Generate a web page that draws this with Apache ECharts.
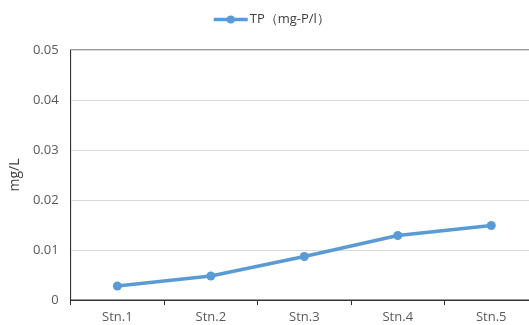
<!DOCTYPE html>
<html>
<head>
<meta charset="utf-8">
<script src="https://cdn.jsdelivr.net/npm/echarts@6/dist/echarts.min.js"></script>
<style>
  html, body { margin: 0; padding: 0; background: #fff; overflow: hidden; }
  /* plot area runs past the right edge of the window */
  #chart { width: 540px; height: 325px; }
</style>
</head>
<body>
<div id="chart"></div>
<script>
// Total phosphorus by station
const stations = ['Stn.1', 'Stn.2', 'Stn.3', 'Stn.4', 'Stn.5'];
const tpValues = [0.0028, 0.0048, 0.0087, 0.0129, 0.0149];
const seriesName = 'TP（mg-P/l）';
const yTicks = [0, 0.01, 0.02, 0.03, 0.04, 0.05];

const FONT = 'Open Sans';
const chart = echarts.init(document.getElementById('chart'), null, { renderer: 'canvas' });

chart.setOption({
  backgroundColor: '#ffffff',
  animation: false,
  textStyle: { fontFamily: FONT },
  legend: {
    data: [seriesName],
    top: 8,
    left: 207,
    itemWidth: 34,
    itemHeight: 10,
    itemGap: 2,
    lineStyle: { width: 3.5 },
    textStyle: { fontFamily: FONT, fontSize: 13, color: '#404040', padding: [0, 0, 0, -3] }
  },
  grid: {
    left: 68,
    top: 50,
    right: 2,
    height: 250,
    show: true,
    borderColor: '#333333',
    borderWidth: 1
  },
  xAxis: {
    type: 'category',
    data: stations,
    boundaryGap: true,
    axisLine: { show: true, lineStyle: { color: '#333333', width: 1 } },
    axisTick: { show: true, length: 5, inside: false, lineStyle: { color: '#333333' } },
    axisLabel: { color: '#595959', fontSize: 13, fontFamily: FONT, margin: 11 },
    splitLine: { show: false }
  },
  yAxis: {
    type: 'value',
    min: yTicks[0],
    max: yTicks[yTicks.length - 1],
    interval: 0.01,
    name: 'mg/L',
    nameLocation: 'middle',
    nameGap: 41,
    nameRotate: 90,
    nameTextStyle: { color: '#404040', fontSize: 14, fontFamily: FONT },
    axisLine: { show: true, lineStyle: { color: '#333333', width: 1 } },
    axisTick: { show: false },
    axisLabel: {
      color: '#595959',
      fontSize: 13,
      fontFamily: FONT,
      margin: 12,
      formatter: v => (v === 0 ? '0' : v.toFixed(2))
    },
    splitLine: { show: true, lineStyle: { color: '#d9d9d9', width: 1 } }
  },
  series: [{
    name: seriesName,
    type: 'line',
    data: tpValues,
    symbol: 'circle',
    symbolSize: 9,
    lineStyle: { color: '#5b9bd5', width: 3.5 },
    itemStyle: { color: '#5b9bd5' }
  }]
});
</script>
</body>
</html>
